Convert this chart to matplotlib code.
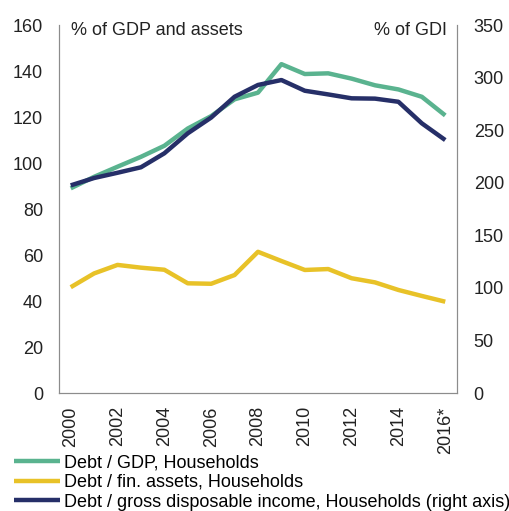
import matplotlib.pyplot as plt

plt.rcParams['font.family'] = ['Liberation Sans', 'DejaVu Sans']

# Data
years = list(range(2000, 2017))
year_labels = ['2000', '', '2002', '', '2004', '', '2006', '', '2008', '', '2010', '',
               '2012', '', '2014', '', '2016*']
debt_gdp = [89, 94, 98.4, 102.7, 107.5, 115, 120.4, 127.7, 130.6, 143, 138.7, 139,
            136.7, 133.8, 132, 128.8, 120.7]
debt_assets = [46, 52, 55.7, 54.5, 53.6, 47.7, 47.5, 51.3, 61.4, 57.4, 53.5, 53.9,
               49.9, 48.1, 44.8, 42.2, 39.7]
debt_gdi = [197.5, 204.5, 209.5, 214.7, 228, 247, 262, 281.8, 293, 297.7, 287.5, 284,
            280.3, 280, 277, 256.5, 240.6]

green = '#5ab38f'
yellow = '#e8c228'
navy = '#262f68'
grey = '#8c8c8c'
fs = 13

fig = plt.figure(figsize=(5.1, 5.11), dpi=100)
ax = fig.add_axes([0.1157, 0.2309, 0.7803, 0.7201])
ax2 = ax.twinx()

l1, = ax.plot(years, debt_gdp, color=green, lw=3.2, solid_capstyle='butt')
l2, = ax.plot(years, debt_assets, color=yellow, lw=3.2, solid_capstyle='butt')
l3, = ax2.plot(years, debt_gdi, color=navy, lw=3.2, solid_capstyle='butt')

ax.set_xlim(1999.5, 2016.5)
ax.set_ylim(0, 160)
ax2.set_ylim(0, 350)
ax.set_yticks(range(0, 161, 20))
ax2.set_yticks(range(0, 351, 50))
ax.set_xticks(years)
ax.set_xticklabels(year_labels, rotation=90)

for a in (ax, ax2):
    a.spines['top'].set_visible(False)
    for s in ('left', 'right', 'bottom'):
        a.spines[s].set_color(grey)
    a.tick_params(length=0, labelsize=fs, colors='#222222', pad=9.5)
ax.tick_params(axis='y', pad=11.5)
ax2.tick_params(axis='y', pad=12)

ax.text(0.03, 1.007, '% of GDP and assets', transform=ax.transAxes,
        fontsize=fs, color='#222222', va='top', ha='left')
ax2.text(0.975, 1.007, '% of GDI', transform=ax.transAxes,
         fontsize=fs, color='#222222', va='top', ha='right')

fig.legend([l1, l2, l3],
           ['Debt / GDP, Households', 'Debt / fin. assets, Households',
            'Debt / gross disposable income, Households (right axis)'],
           loc='upper left', bbox_to_anchor=(0.027, 0.111), frameon=False,
           fontsize=fs, handlelength=2.55, handletextpad=0.22, labelspacing=0.15,
           borderpad=0, borderaxespad=0)

fig.savefig('out.png', dpi=100)
